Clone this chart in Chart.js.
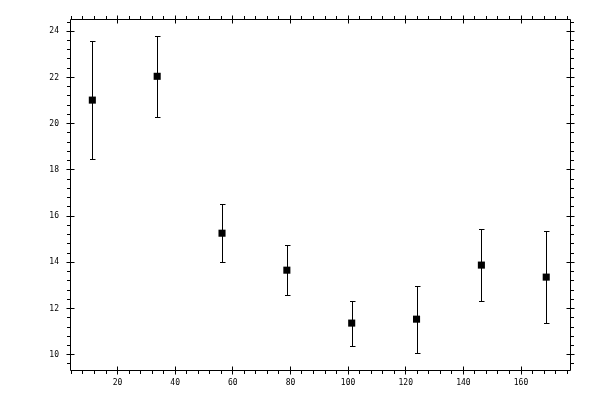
<!DOCTYPE html>
<html><head><meta charset="utf-8">
<script src="https://cdn.jsdelivr.net/npm/chart.js@4.4.1/dist/chart.umd.min.js"></script>
<style>html,body{margin:0;padding:0;background:#fff}canvas{display:block}</style>
</head><body>
<canvas id="c" width="600" height="400"></canvas>
<script>
const xValues = [11.25, 33.75, 56.25, 78.75, 101.25, 123.75, 146.25, 168.75];
const yValues = [21.02, 22.05, 15.26, 13.66, 11.37, 11.54, 13.88, 13.36];
const yErrors = [2.55, 1.76, 1.26, 1.09, 0.97, 1.45, 1.57, 2.00];
const xTicks = [20, 40, 60, 80, 100, 120, 140, 160];
const yTicks = [10, 12, 14, 16, 18, 20, 22, 24];
const xMinorStep = 4, xMajorStep = 20;
const yMinorStep = 0.4, yMajorStep = 2;
const xRange = [3.5, 177];
const yRange = [9.34, 24.53];

const points = xValues.map((x, i) => ({ x: x, y: yValues[i] }));

const errorBars = {
  id: 'errorBars',
  afterDatasetsDraw(chart) {
    const ctx = chart.ctx, xs = chart.scales.x, ys = chart.scales.y;
    ctx.save();
    ctx.strokeStyle = '#000';
    ctx.lineWidth = 1;
    xValues.forEach((xv, i) => {
      const px = Math.round(xs.getPixelForValue(xv)) + 0.5;
      const top = Math.round(ys.getPixelForValue(yValues[i] + yErrors[i])) + 0.5;
      const bot = Math.round(ys.getPixelForValue(yValues[i] - yErrors[i])) + 0.5;
      ctx.beginPath();
      ctx.moveTo(px, top); ctx.lineTo(px, bot);
      ctx.moveTo(px - 2.5, top); ctx.lineTo(px + 3, top);
      ctx.moveTo(px - 2.5, bot); ctx.lineTo(px + 3, bot);
      ctx.stroke();
    });
    ctx.restore();
  }
};

const frame = {
  id: 'frame',
  afterDraw(chart) {
    const ctx = chart.ctx, a = chart.chartArea, xs = chart.scales.x, ys = chart.scales.y;
    const L = Math.floor(a.left) + 0.5, R = Math.floor(a.right) + 0.5;
    const T = Math.floor(a.top) + 0.5, B = Math.floor(a.bottom) + 0.5;
    ctx.save();
    ctx.strokeStyle = '#000';
    ctx.lineWidth = 1;
    ctx.beginPath();
    ctx.rect(L, T, R - L, B - T);
    // x ticks
    for (let k = Math.ceil(xs.min / xMinorStep); k * xMinorStep <= xs.max; k++) {
      const v = k * xMinorStep;
      const major = Math.abs(v / xMajorStep - Math.round(v / xMajorStep)) < 1e-6;
      const px = Math.floor(xs.getPixelForValue(v)) + 0.5;
      const inn = major ? 4 : 0, out = major ? 4 : 3.5;
      ctx.moveTo(px, B - inn); ctx.lineTo(px, B + out);
      ctx.moveTo(px, T + inn); ctx.lineTo(px, T - out);
    }
    // y ticks
    for (let k = Math.ceil(ys.min / yMinorStep - 1e-9); k * yMinorStep <= ys.max + 1e-9; k++) {
      const v = k * yMinorStep;
      const major = Math.abs(v / yMajorStep - Math.round(v / yMajorStep)) < 1e-6;
      const py = Math.floor(ys.getPixelForValue(v)) + 0.5;
      const inn = major ? 4 : 0, out = major ? 4 : 3.5;
      ctx.moveTo(L + inn, py); ctx.lineTo(L - out, py);
      ctx.moveTo(R - inn, py); ctx.lineTo(R + out, py);
    }
    ctx.stroke();
    ctx.restore();
  }
};

Chart.defaults.color = '#000';
Chart.defaults.font.family = "'DejaVu Sans Mono', monospace";
Chart.defaults.font.size = 8;

new Chart(document.getElementById('c'), {
  type: 'scatter',
  data: {
    datasets: [{
      data: points,
      pointStyle: 'rect',
      pointRadius: 5,
      pointHoverRadius: 5,
      pointBorderWidth: 0,
      pointBackgroundColor: '#000',
      pointBorderColor: '#000'
    }]
  },
  options: {
    responsive: false,
    animation: false,
    devicePixelRatio: 1,
    layout: { padding: { top: 19, right: 30, left: 0, bottom: 0 } },
    plugins: { legend: { display: false }, tooltip: { enabled: false } },
    scales: {
      x: {
        type: 'linear', min: xRange[0], max: xRange[1],
        afterFit: s => { s.height = 30; },
        afterBuildTicks: s => { s.ticks = xTicks.map(v => ({ value: v })); },
        grid: { display: false, drawTicks: false },
        border: { display: false },
        ticks: { padding: 8, maxRotation: 0, autoSkip: false }
      },
      y: {
        type: 'linear', min: yRange[0], max: yRange[1],
        afterFit: s => { s.width = 70; },
        afterBuildTicks: s => { s.ticks = yTicks.map(v => ({ value: v })); },
        grid: { display: false, drawTicks: false },
        border: { display: false },
        ticks: { padding: 11, autoSkip: false }
      }
    }
  },
  plugins: [errorBars, frame]
});
</script>
</body></html>
